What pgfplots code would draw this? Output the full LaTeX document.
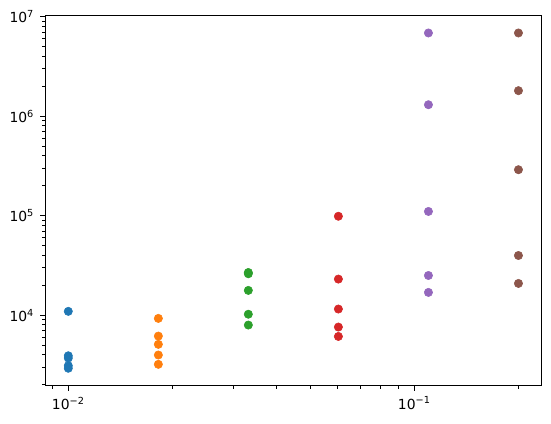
\documentclass[border=0pt]{standalone}
\usepackage{pgfplots}
\pgfplotsset{compat=1.18}
\usepackage{fontspec}
\setmainfont{DejaVu Sans}
\definecolor{c0}{HTML}{1F77B4}
\definecolor{c1}{HTML}{FF7F0E}
\definecolor{c2}{HTML}{2CA02C}
\definecolor{c3}{HTML}{D62728}
\definecolor{c4}{HTML}{9467BD}
\definecolor{c5}{HTML}{8C564B}
\newcommand{\tp}[1]{10\textsuperscript{#1}}
\begin{document}
\begin{tikzpicture}
\begin{loglogaxis}[
  scale only axis,
  width=357.1pt, height=266.7pt,
  xmin=0.00858, xmax=0.2328,
  ymin=1950, ymax=1.03e7,
  axis line style={line width=0.8pt},
  tick align=outside,
  xtick pos=left, ytick pos=left,
  xtick={0.01,0.1},
  xticklabels={\tp{−2},\tp{−1}},
  minor xtick={0.009,0.02,0.03,0.04,0.05,0.06,0.07,0.08,0.09,0.2},
  ytick={1e4,1e5,1e6,1e7},
  yticklabels={\tp{4},\tp{5},\tp{6},\tp{7}},
  minor ytick={2e3,3e3,4e3,5e3,6e3,7e3,8e3,9e3,2e4,3e4,4e4,5e4,6e4,7e4,8e4,9e4,2e5,3e5,4e5,5e5,6e5,7e5,8e5,9e5,2e6,3e6,4e6,5e6,6e6,7e6,8e6,9e6},
  major tick length=3.5pt, minor tick length=2pt,
  every major tick/.style={line width=0.8pt, black},
  every minor tick/.style={line width=0.6pt, black},
  tick label style={font=\fontsize{10}{12}\selectfont},
  xticklabel style={yshift=-1pt},
  yticklabel style={xshift=-1pt},
  every axis plot/.append style={only marks, mark=*, mark size=3pt},
]
\addplot[c0, mark options={draw=c0, fill=c0}] coordinates {(0.01,1.09e4) (0.01,3.9e3) (0.01,3.7e3) (0.01,3.1e3) (0.01,2.92e3)};
\addplot[c1, mark options={draw=c1, fill=c1}] coordinates {(0.01821,9.26e3) (0.01821,6.15e3) (0.01821,5.08e3) (0.01821,3.97e3) (0.01821,3.2e3)};
\addplot[c2, mark options={draw=c2, fill=c2}] coordinates {(0.03314,2.68e4) (0.03314,2.6e4) (0.03314,1.77e4) (0.03314,1.02e4) (0.03314,7.94e3)};
\addplot[c3, mark options={draw=c3, fill=c3}] coordinates {(0.06034,9.84e4) (0.06034,2.3e4) (0.06034,1.15e4) (0.06034,7.58e3) (0.06034,6.1e3)};
\addplot[c4, mark options={draw=c4, fill=c4}] coordinates {(0.10986,6.84e6) (0.10986,1.3e6) (0.10986,1.1e5) (0.10986,2.5e4) (0.10986,1.69e4)};
\addplot[c5, mark options={draw=c5, fill=c5}] coordinates {(0.2,6.84e6) (0.2,1.8e6) (0.2,2.89e5) (0.2,3.97e4) (0.2,2.08e4)};
\end{loglogaxis}
\useasboundingbox ([xshift=-32.6pt,yshift=-26.9pt]current axis.south west) rectangle ([xshift=7pt,yshift=11pt]current axis.north east);
\end{tikzpicture}
\end{document}
